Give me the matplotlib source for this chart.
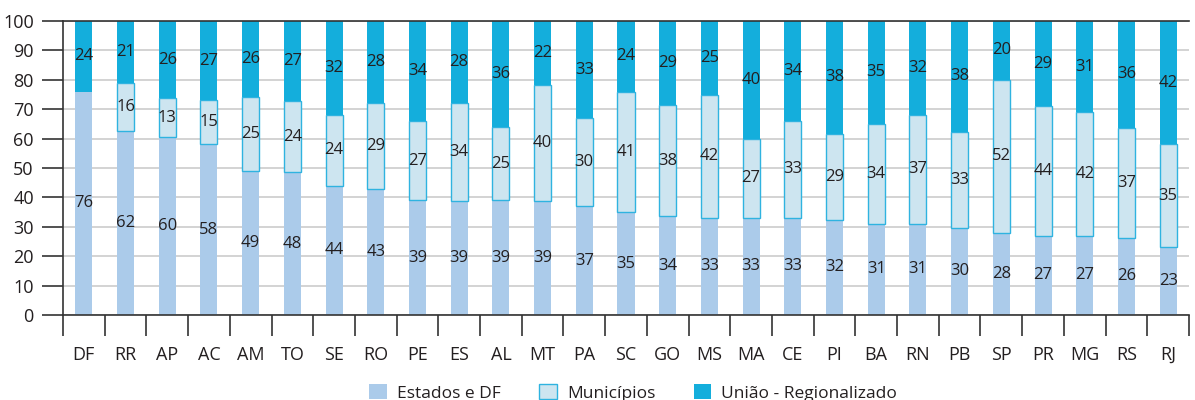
import numpy as np
import matplotlib.pyplot as plt

plt.rcParams['font.family'] = ['Open Sans', 'DejaVu Sans']

# dados por UF (%)
ufs = ['DF', 'RR', 'AP', 'AC', 'AM', 'TO', 'SE', 'RO', 'PE', 'ES', 'AL', 'MT', 'PA', 'SC',
       'GO', 'MS', 'MA', 'CE', 'PI', 'BA', 'RN', 'PB', 'SP', 'PR', 'MG', 'RS', 'RJ']
estados = [76, 62, 60, 58, 49, 48, 44, 43, 39, 39, 39, 39, 37, 35,
           34, 33, 33, 33, 32, 31, 31, 30, 28, 27, 27, 26, 23]
municipios = [0, 16, 13, 15, 25, 24, 24, 29, 27, 34, 25, 40, 30, 41,
              38, 42, 27, 33, 29, 34, 37, 33, 52, 44, 42, 37, 35]
uniao = [24, 21, 26, 27, 26, 27, 32, 28, 34, 28, 36, 22, 33, 24,
         29, 25, 40, 34, 38, 35, 32, 38, 20, 29, 31, 36, 42]

c_est = '#abcbea'
c_mun = '#cde5f0'
c_mun_edge = '#2fb3e0'
c_uni = '#14aedc'
c_txt = '#231f20'

e = np.array(estados, dtype=float)
m = np.array(municipios, dtype=float)
u = np.array(uniao, dtype=float)
tot = e + m + u
# participacao (soma = 100)
e_s = e / tot * 100
m_s = m / tot * 100
u_s = u / tot * 100

x = np.arange(len(ufs))
w = 0.41

fig = plt.figure(figsize=(11.95, 4.0), dpi=100)
ax = fig.add_axes([0.0527, 0.2125, 0.9423, 0.735])

ax.bar(x, e_s, w, color=c_est, zorder=2, label='Estados e DF')
has_mun = m > 0
ax.bar(x[has_mun], m_s[has_mun], w, bottom=e_s[has_mun], color=c_mun,
       edgecolor=c_mun_edge, linewidth=1.0, zorder=2, label='Municípios')
ax.bar(x, u_s, w, bottom=e_s + m_s, color=c_uni, zorder=2, label='União - Regionalizado')

# rotulos dos valores
for i in range(len(ufs)):
    ax.text(x[i], e_s[i] / 2, str(estados[i]), ha='center', va='center', fontsize=12,
            color=c_txt, zorder=3)
    if municipios[i] > 0:
        ax.text(x[i], e_s[i] + m_s[i] / 2, str(municipios[i]), ha='center', va='center',
                fontsize=12, color=c_txt, zorder=3)
    ax.text(x[i], e_s[i] + m_s[i] + u_s[i] / 2, str(uniao[i]), ha='center', va='center',
            fontsize=12, color=c_txt, zorder=3)

ax.set_xlim(-0.5, len(ufs) - 0.5)
ax.set_ylim(0, 100)
ax.set_yticks(np.arange(0, 101, 10))
ax.yaxis.grid(True, color='#cccccc', linewidth=1.2, zorder=0)
ax.set_axisbelow(True)

# marcas entre as categorias, rotulos no centro
ax.set_xticks(np.arange(-0.5, len(ufs), 1.0))
ax.set_xticklabels([])
ax.set_xticks(x, minor=True)
ax.set_xticklabels(ufs, minor=True)
ax.tick_params(axis='x', which='major', length=15, width=1.2, color='#333333', direction='out')
ax.tick_params(axis='x', which='minor', length=0, pad=22, labelsize=13, labelcolor=c_txt)
ax.tick_params(axis='y', length=15, width=1.2, color='#333333', pad=6, labelsize=13,
               labelcolor=c_txt)

for s in ['left', 'bottom', 'top']:
    ax.spines[s].set_color('#333333')
    ax.spines[s].set_linewidth(1.2)
ax.spines['right'].set_visible(False)

fig.legend(loc='center', bbox_to_anchor=(0.53, 0.018), ncol=3, frameon=False,
           fontsize=12.5, handlelength=1.0, handleheight=1.0, columnspacing=2.2,
           handletextpad=0.6, labelcolor=c_txt)

fig.savefig('out.png', dpi=100)
